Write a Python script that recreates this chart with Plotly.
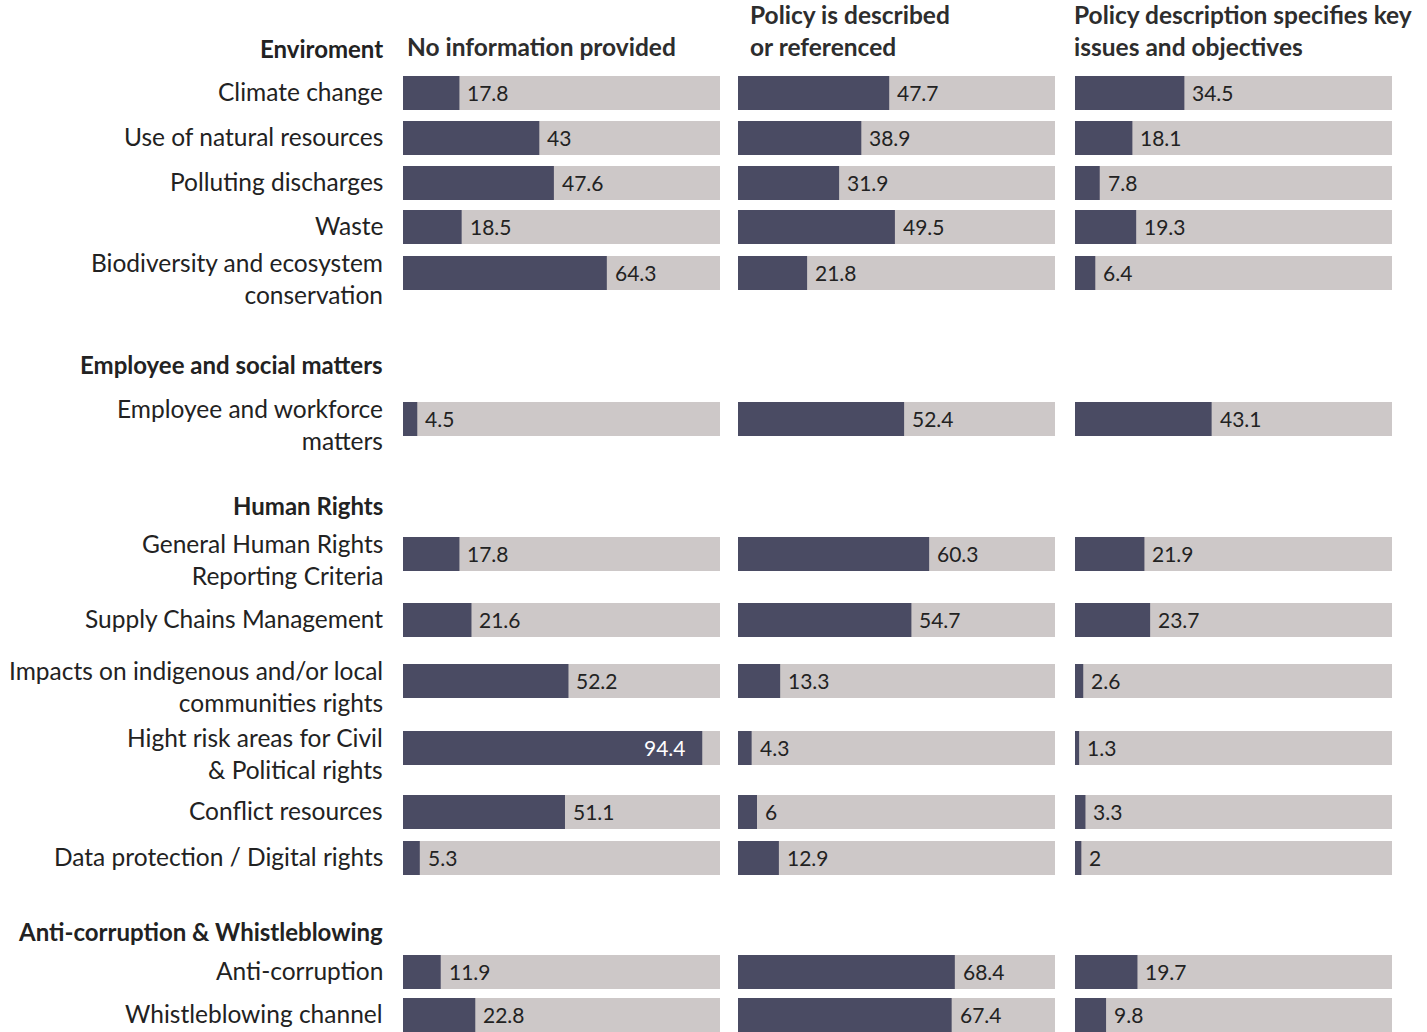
import plotly.graph_objects as go

# ---------------- data ----------------
sections = ["Enviroment", "Employee and social matters", "Human Rights",
            "Anti-corruption & Whistleblowing"]
section_rows = [
    ["Climate change", "Use of natural resources", "Polluting discharges", "Waste",
     "Biodiversity and ecosystem<br>conservation"],
    ["Employee and workforce<br>matters"],
    ["General Human Rights<br>Reporting Criteria", "Supply Chains Management",
     "Impacts on indigenous and/or local<br>communities rights",
     "Hight risk areas for Civil<br>& Political rights", "Conflict resources",
     "Data protection / Digital rights"],
    ["Anti-corruption", "Whistleblowing channel"],
]
columns = ["No information provided", "Policy is described<br>or referenced",
           "Policy description specifies key<br>issues and objectives"]
no_info = [17.8, 43, 47.6, 18.5, 64.3, 4.5, 17.8, 21.6, 52.2, 94.4, 51.1, 5.3, 11.9, 22.8]
described = [47.7, 38.9, 31.9, 49.5, 21.8, 52.4, 60.3, 54.7, 13.3, 4.3, 6, 12.9, 68.4, 67.4]
specified = [34.5, 18.1, 7.8, 19.3, 6.4, 43.1, 21.9, 23.7, 2.6, 1.3, 3.3, 2, 19.7, 9.8]
series = [no_info, described, specified]

# ---------------- layout / style ----------------
W, H = 1427, 1032
DARK = "#4a4b63"
LIGHT = "#cdc8c8"
TXT = "#222222"
FONT = "Lato"
domains = [(403 / W, 720 / W), (738 / W, 1055 / W), (1075 / W, 1392 / W)]
# vertical gap (px) before each header / row, in reading order
gaps = [48, 45, 45, 45, 44, 46,
        91, 55,
        86, 49, 66, 61, 67, 64, 46,
        73, 41, 43]
BAR_H = 34

# compute vertical positions
header_y, row_y, row_labels = [], [], []
cur = 0
gi = 0
for sec, rows in zip(sections, section_rows):
    cur += gaps[gi]; gi += 1
    header_y.append(cur)
    for r in rows:
        cur += gaps[gi]; gi += 1
        row_y.append(cur)
        row_labels.append(r)

fig = go.Figure()
axes = ["x", "x2", "x3"]
annotations = []
for ci, vals in enumerate(series):
    ax = axes[ci]
    fig.add_trace(go.Bar(x=[100] * len(vals), y=row_y, orientation="h", width=BAR_H,
                         marker=dict(color=LIGHT, line=dict(width=0)),
                         xaxis=ax, yaxis="y", hoverinfo="skip", showlegend=False))
    fig.add_trace(go.Bar(x=vals, y=row_y, orientation="h", width=BAR_H,
                         marker=dict(color=DARK, line=dict(width=0)),
                         xaxis=ax, yaxis="y", showlegend=False))
    for v, y in zip(vals, row_y):
        ins = v > 85
        annotations.append(dict(
            text=f"{v:g}", x=v, xref=ax, y=y, yref="y",
            xanchor="right" if ins else "left", yanchor="middle",
            xshift=-14 if ins else 6, yshift=1, showarrow=False,
            font=dict(family=FONT, size=21, color="white" if ins else TXT)))

for sec, y in zip(sections, header_y):
    annotations.append(dict(text=f"<b>{sec}</b>", x=385 / W, xref="paper", y=y, yref="y",
                            xanchor="right", yanchor="middle", showarrow=False,
                            font=dict(family=FONT, size=24, color=TXT)))
for lab, y in zip(row_labels, row_y):
    two = "<br>" in lab
    annotations.append(dict(text=lab, x=385 / W, xref="paper", y=y + (5 if two else 0),
                            yref="y", xanchor="right", yanchor="middle", align="right",
                            yshift=0 if two else 2,
                            showarrow=False, font=dict(family=FONT, size=24.5, color=TXT)))
col_x = [405, 748, 1072]
for c, x in zip(columns, col_x):
    annotations.append(dict(text=f"<b>{c}</b>", x=x / W, xref="paper", y=header_y[0] + 15,
                            yref="y", xanchor="left", yanchor="bottom", align="left",
                            showarrow=False, font=dict(family=FONT, size=24.5, color="#2d2d2d")))

layout = dict(
    width=W, height=H, margin=dict(l=0, r=0, t=0, b=0),
    paper_bgcolor="white", plot_bgcolor="white",
    barmode="overlay", showlegend=False,
    yaxis=dict(range=[H, 0], domain=[0, 1], visible=False, fixedrange=True),
    annotations=annotations,
)
for ci, ax in enumerate(axes):
    key = "xaxis" if ci == 0 else f"xaxis{ci + 1}"
    layout[key] = dict(domain=list(domains[ci]), range=[0, 100], visible=False,
                       anchor="y", fixedrange=True)
fig.update_layout(**layout)
fig.write_html("out.html")
